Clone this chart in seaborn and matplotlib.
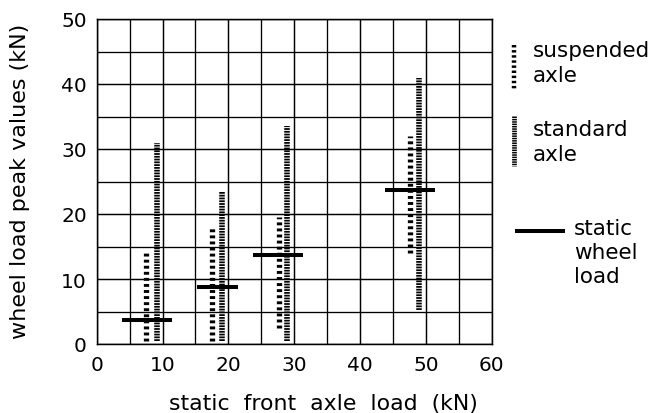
import numpy as np
import pandas as pd
import matplotlib
matplotlib.use("Agg")
import matplotlib.pyplot as plt
from matplotlib.lines import Line2D
import seaborn as sns

# ---- data ----
group_names = ["g1", "g2", "g3", "g4"]
susp_x = [7.5, 17.5, 27.7, 47.6]
susp_lo = [0.5, 0.5, 2.5, 14.0]
susp_hi = [14.5, 18.2, 19.5, 32.0]
std_x = [9.1, 19.1, 28.9, 49.0]
std_lo = [0.5, 0.5, 0.5, 5.3]
std_hi = [31.0, 23.5, 33.6, 41.0]
static_y = [3.7, 8.7, 13.7, 23.7]
static_lo = [3.8, 15.2, 23.8, 43.8]
static_hi = [11.4, 21.5, 31.4, 51.4]

x_ticks = [0, 10, 20, 30, 40, 50, 60]
y_ticks = [0, 10, 20, 30, 40, 50]

# ---- long-form table of segments ----
rows = []
for g, x, lo, hi in zip(group_names, susp_x, susp_lo, susp_hi):
    rows += [dict(x=x, y=lo, kind="suspended", seg="s" + g),
             dict(x=x, y=hi, kind="suspended", seg="s" + g)]
for g, x, lo, hi in zip(group_names, std_x, std_lo, std_hi):
    rows += [dict(x=x, y=lo, kind="standard", seg="t" + g),
             dict(x=x, y=hi, kind="standard", seg="t" + g)]
for g, y, lo, hi in zip(group_names, static_y, static_lo, static_hi):
    rows += [dict(x=lo, y=y, kind="static", seg="w" + g),
             dict(x=hi, y=y, kind="static", seg="w" + g)]
df = pd.DataFrame(rows)

sns.set_theme(style="white")
plt.rcParams["font.family"] = ["DejaVu Sans"]

fig = plt.figure(figsize=(6.59, 4.14), dpi=100)
ax = fig.add_axes([96.7 / 659, 1 - 345 / 414, 395 / 659, 325 / 414])

SUSP_DASH = (0.55, 0.6)
STD_DASH = (0.32, 0.18)
dash_map = {"suspended": SUSP_DASH, "standard": STD_DASH, "static": ""}
size_map = {"suspended": 3.8, "standard": 4.0, "static": 2.9}
sns.lineplot(data=df, x="x", y="y", hue="kind", style="kind", size="kind",
             units="seg", estimator=None, sort=False,
             palette={"suspended": "black", "standard": "black", "static": "black"},
             dashes=dash_map, sizes=size_map, legend=False, ax=ax, zorder=3)
for ln in ax.get_lines():
    ln.set_solid_capstyle("butt")
    ln.set_dash_capstyle("butt")

ax.set_xlim(0, 60)
ax.set_ylim(0, 50)
ax.set_xticks(x_ticks)
ax.set_yticks(y_ticks)
ax.set_xticks(np.arange(5, 60, 10), minor=True)
ax.set_yticks(np.arange(5, 50, 10), minor=True)
ax.grid(True, which="major", color="black", linewidth=1.05)
ax.grid(True, which="minor", color="black", linewidth=0.95)
ax.set_axisbelow(True)
for sp in ax.spines.values():
    sp.set_color("black")
    sp.set_linewidth(1.05)
ax.tick_params(axis="both", which="both", length=0, labelsize=14.5, colors="black")
ax.tick_params(axis="y", pad=7)
ax.tick_params(axis="x", pad=8)

ax.set_xlabel("static  front  axle  load  (kN)", fontsize=15.8, color="black")
ax.set_ylabel("wheel load peak values (kN)", fontsize=16, color="black")
ax.xaxis.set_label_coords((323 - 96.7) / 395, (345 - 404) / 325)
ax.xaxis.label.set_va("center")
ax.yaxis.set_label_coords((20 - 96.7) / 395, (345 - 181) / 325)
ax.yaxis.label.set_va("center")

# ---- legend drawn to the right ----
W, H = 659.0, 414.0
def fx(px):
    return px / W
def fy(py):
    return 1 - py / H

fig.add_artist(Line2D([fx(514), fx(514)], [fy(46), fy(92)], color="black",
                      linewidth=3.2, dashes=SUSP_DASH, solid_capstyle="butt",
                      dash_capstyle="butt"))
fig.add_artist(Line2D([fx(514), fx(514)], [fy(117), fy(167)], color="black",
                      linewidth=3.4, dashes=STD_DASH, solid_capstyle="butt",
                      dash_capstyle="butt"))
fig.add_artist(Line2D([fx(515), fx(565)], [fy(232), fy(232)], color="black",
                      linewidth=2.9, solid_capstyle="butt"))

leg_fs = 15.5
for txt, px, py in [("suspended", 533, 51), ("axle", 533, 76),
                    ("standard", 533, 130), ("axle", 533, 155),
                    ("static", 574, 229), ("wheel", 574, 253), ("load", 574, 277)]:
    fig.text(fx(px), fy(py), txt, fontsize=leg_fs, color="black",
             ha="left", va="center")

fig.savefig("out.png", dpi=100, facecolor="white")
